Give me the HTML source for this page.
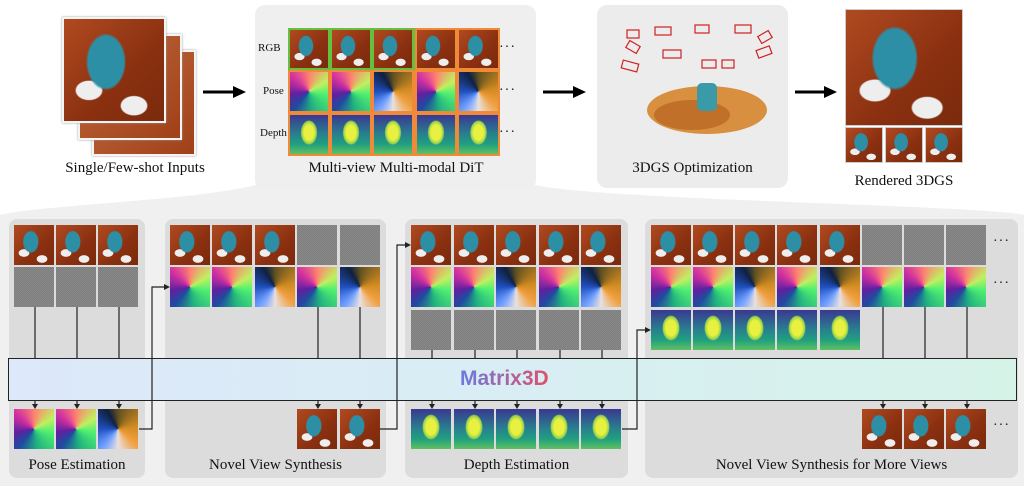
<!DOCTYPE html>
<html><head><meta charset="utf-8"><style>
*{margin:0;padding:0;box-sizing:border-box}
body{width:1024px;height:486px;background:#fff;position:relative;overflow:hidden;font-family:"Liberation Serif",serif;color:#111}
.a{position:absolute}
.t{position:absolute;width:40px;height:40px}
.rgb{background:radial-gradient(ellipse 20% 28% at 42% 42%,#2d8fa6 0 90%,transparent 100%),radial-gradient(ellipse 14% 10% at 25% 70%,#eee 0 90%,transparent 100%),radial-gradient(ellipse 14% 10% at 70% 85%,#eee 0 90%,transparent 100%),linear-gradient(135deg,#b04a20,#8a3010 60%,#7a2a0c)}
.noise{background:repeating-conic-gradient(#8a8a8a 0 25%,#7d7d7d 0 50%) 0 0/2px 2px,#858585}
.pa{background:conic-gradient(from 0deg,#ff8070,#c0f060 60deg,#50f070 100deg,#20b080 170deg,#204aa0 220deg,#6020a0 260deg,#d030a0 310deg,#ff8070)}
.pb{background:conic-gradient(from 0deg,#605020,#d08a20 80deg,#f0a040 130deg,#e8e0e0 180deg,#70a0ff 220deg,#2050c0 270deg,#102040 330deg,#605020)}
.dep{background:radial-gradient(ellipse 22% 32% at 50% 45%,#e8f040 0 60%,#90d050 90%,transparent 100%),linear-gradient(#3a3890,#2a7a90 45%,#20a080 75%,#60c060)}
.lab{position:absolute;text-align:center;font-size:15px;white-space:nowrap}
.dots{position:absolute;font-size:14px;letter-spacing:1px}
.sp{position:absolute;background:#dcdcdc;border-radius:8px}
</style></head><body>
<svg class="a" style="left:0;top:0" width="1024" height="486">
<path d="M255 185 C 200 200, 40 205, 0 215 L0 486 L1024 486 L1024 215 C 980 205, 600 200, 535 185 Z" fill="#f0f0f0"/>
</svg>
<div class="a" style="left:255px;top:5px;width:281px;height:185px;background:#efefef;border-radius:10px"></div>
<div class="a" style="left:597px;top:5px;width:191px;height:183px;background:#ececec;border-radius:10px"></div>
<div class="a" style="left:92px;top:50px;width:104px;height:106px;background:linear-gradient(135deg,#c06a40,#a04018);border:2px solid #f4f4f4;box-shadow:0 0 2px #999"></div>
<div class="a" style="left:78px;top:34px;width:104px;height:106px;background:linear-gradient(135deg,#c06a40,#a04018);border:2px solid #f4f4f4;box-shadow:0 0 2px #999"></div>
<div class="a rgb" style="left:62px;top:17px;width:104px;height:106px;border:2px solid #f4f4f4;box-shadow:0 0 2px #999"></div>
<div class="lab" style="left:40px;top:160px;width:190px">Single/Few-shot Inputs</div>
<svg class="a" style="left:0;top:0" width="1024" height="200">
<g stroke="#000" stroke-width="3"><line x1="203" y1="92" x2="235" y2="92"/><line x1="543" y1="92" x2="575" y2="92"/><line x1="795" y1="92" x2="826" y2="92"/></g>
<g fill="#000"><polygon points="233,86 246,92 233,98"/><polygon points="573,86 586,92 573,98"/><polygon points="824,86 837,92 824,98"/></g>
</svg>
<div class="lab" style="left:258px;top:42px;font-size:11px">RGB</div>
<div class="lab" style="left:263px;top:85px;font-size:11px">Pose</div>
<div class="lab" style="left:260px;top:127px;font-size:11px">Depth</div>
<div class="a" style="left:288px;top:28px;width:212px;height:128px;background:#f08a38"></div>
<div class="a" style="left:288px;top:28px;width:127px;height:42px;background:#66c040"></div>
<div class="t rgb" style="left:290px;top:30px;width:38px;height:38px"></div>
<div class="t rgb" style="left:332px;top:30px;width:38px;height:38px"></div>
<div class="t rgb" style="left:374px;top:30px;width:38px;height:38px"></div>
<div class="t rgb" style="left:417px;top:30px;width:38px;height:38px"></div>
<div class="t rgb" style="left:459px;top:30px;width:39px;height:38px"></div>
<div class="t pa" style="left:290px;top:72px;width:38px;height:39px"></div>
<div class="t pa" style="left:332px;top:72px;width:38px;height:39px"></div>
<div class="t pb" style="left:374px;top:72px;width:38px;height:39px"></div>
<div class="t pa" style="left:417px;top:72px;width:38px;height:39px"></div>
<div class="t pb" style="left:459px;top:72px;width:39px;height:39px"></div>
<div class="t dep" style="left:290px;top:115px;width:38px;height:39px"></div>
<div class="t dep" style="left:332px;top:115px;width:38px;height:39px"></div>
<div class="t dep" style="left:374px;top:115px;width:38px;height:39px"></div>
<div class="t dep" style="left:417px;top:115px;width:38px;height:39px"></div>
<div class="t dep" style="left:459px;top:115px;width:39px;height:39px"></div>
<div class="dots" style="left:499px;top:40px">···</div>
<div class="dots" style="left:499px;top:83px">···</div>
<div class="dots" style="left:499px;top:125px">···</div>
<div class="lab" style="left:290px;top:160px;width:212px">Multi-view Multi-modal DiT</div>
<svg class="a" style="left:597px;top:5px" width="191" height="150">
<g fill="none" stroke="#d02020" stroke-width="1.2">
<rect x="30" y="25" width="12" height="8"/><rect x="30" y="38" width="12" height="8" transform="rotate(30 36 42)"/><rect x="58" y="22" width="16" height="8"/><rect x="98" y="20" width="14" height="8"/><rect x="138" y="20" width="16" height="8"/><rect x="162" y="28" width="12" height="8" transform="rotate(-30 168 32)"/><rect x="160" y="43" width="14" height="8" transform="rotate(-20 167 47)"/><rect x="66" y="45" width="18" height="8"/><rect x="105" y="55" width="14" height="8"/><rect x="125" y="55" width="12" height="8"/><rect x="25" y="57" width="16" height="8" transform="rotate(15 33 61)"/>
</g>
<ellipse cx="110" cy="105" rx="60" ry="24" fill="#d89040"/>
<ellipse cx="95" cy="110" rx="38" ry="15" fill="#c07028"/>
<rect x="100" y="78" width="20" height="28" rx="5" fill="#3a9aa8"/>
</svg>
<div class="lab" style="left:597px;top:160px;width:191px">3DGS Optimization</div>
<div class="a rgb" style="left:845px;top:9px;width:118px;height:117px;border:1px solid #ccc"></div>
<div class="a rgb" style="left:845px;top:127px;width:38px;height:36px;border:1px solid #ccc"></div>
<div class="a rgb" style="left:885px;top:127px;width:38px;height:36px;border:1px solid #ccc"></div>
<div class="a rgb" style="left:925px;top:127px;width:38px;height:36px;border:1px solid #ccc"></div>
<div class="lab" style="left:845px;top:173px;width:118px">Rendered 3DGS</div>
<div class="sp" style="left:9px;top:219px;width:136px;height:259px"></div>
<div class="sp" style="left:165px;top:219px;width:221px;height:259px"></div>
<div class="sp" style="left:405px;top:219px;width:223px;height:259px"></div>
<div class="sp" style="left:645px;top:219px;width:373px;height:259px"></div>
<div class="t rgb" style="left:14px;top:225px"></div><div class="t rgb" style="left:56px;top:225px"></div><div class="t rgb" style="left:98px;top:225px"></div>
<div class="t noise" style="left:14px;top:267px"></div><div class="t noise" style="left:56px;top:267px"></div><div class="t noise" style="left:98px;top:267px"></div>
<div class="t pa" style="left:14px;top:409px"></div><div class="t pa" style="left:56px;top:409px"></div><div class="t pb" style="left:98px;top:409px"></div>
<div class="lab" style="left:9px;top:457px;width:136px">Pose Estimation</div>
<div class="t rgb" style="left:170px;top:225px"></div><div class="t rgb" style="left:212px;top:225px"></div><div class="t rgb" style="left:255px;top:225px"></div><div class="t noise" style="left:297px;top:225px"></div><div class="t noise" style="left:340px;top:225px"></div>
<div class="t pa" style="left:170px;top:267px"></div><div class="t pa" style="left:212px;top:267px"></div><div class="t pb" style="left:255px;top:267px"></div><div class="t pa" style="left:297px;top:267px"></div><div class="t pb" style="left:340px;top:267px"></div>
<div class="t rgb" style="left:297px;top:409px"></div><div class="t rgb" style="left:340px;top:409px"></div>
<div class="lab" style="left:165px;top:457px;width:221px">Novel View Synthesis</div>
<div class="t rgb" style="left:411px;top:225px"></div><div class="t rgb" style="left:454px;top:225px"></div><div class="t rgb" style="left:496px;top:225px"></div><div class="t rgb" style="left:539px;top:225px"></div><div class="t rgb" style="left:581px;top:225px"></div>
<div class="t pa" style="left:411px;top:267px"></div><div class="t pa" style="left:454px;top:267px"></div><div class="t pb" style="left:496px;top:267px"></div><div class="t pa" style="left:539px;top:267px"></div><div class="t pb" style="left:581px;top:267px"></div>
<div class="t noise" style="left:411px;top:310px"></div><div class="t noise" style="left:454px;top:310px"></div><div class="t noise" style="left:496px;top:310px"></div><div class="t noise" style="left:539px;top:310px"></div><div class="t noise" style="left:581px;top:310px"></div>
<div class="t dep" style="left:411px;top:409px"></div><div class="t dep" style="left:454px;top:409px"></div><div class="t dep" style="left:496px;top:409px"></div><div class="t dep" style="left:539px;top:409px"></div><div class="t dep" style="left:581px;top:409px"></div>
<div class="lab" style="left:405px;top:457px;width:223px">Depth Estimation</div>
<div class="t rgb" style="left:651px;top:225px"></div><div class="t rgb" style="left:693px;top:225px"></div><div class="t rgb" style="left:735px;top:225px"></div><div class="t rgb" style="left:777px;top:225px"></div><div class="t rgb" style="left:820px;top:225px"></div><div class="t noise" style="left:862px;top:225px"></div><div class="t noise" style="left:904px;top:225px"></div><div class="t noise" style="left:946px;top:225px"></div>
<div class="t pa" style="left:651px;top:267px"></div><div class="t pa" style="left:693px;top:267px"></div><div class="t pb" style="left:735px;top:267px"></div><div class="t pa" style="left:777px;top:267px"></div><div class="t pb" style="left:820px;top:267px"></div><div class="t pa" style="left:862px;top:267px"></div><div class="t pa" style="left:904px;top:267px"></div><div class="t pa" style="left:946px;top:267px"></div>
<div class="t dep" style="left:651px;top:310px"></div><div class="t dep" style="left:693px;top:310px"></div><div class="t dep" style="left:735px;top:310px"></div><div class="t dep" style="left:777px;top:310px"></div><div class="t dep" style="left:820px;top:310px"></div>
<div class="t rgb" style="left:862px;top:409px"></div><div class="t rgb" style="left:904px;top:409px"></div><div class="t rgb" style="left:946px;top:409px"></div>
<div class="dots" style="left:993px;top:234px">···</div><div class="dots" style="left:993px;top:276px">···</div><div class="dots" style="left:993px;top:418px">···</div>
<div class="lab" style="left:645px;top:457px;width:373px">Novel View Synthesis for More Views</div>
<div class="a" style="left:8px;top:358px;width:1009px;height:43px;border:1.5px solid #222;background:linear-gradient(90deg,#dde8fa,#d8eef4 50%,#d6f3e8)"></div>
<div class="a" style="left:460px;top:367px;font-family:'Liberation Sans',sans-serif;font-size:21px;font-weight:bold;background:linear-gradient(90deg,#6a7ae0,#e0506a);-webkit-background-clip:text;background-clip:text;color:transparent">Matrix3D</div>
<svg class="a" style="left:0;top:0" width="1024" height="486">
<g stroke="#222" stroke-width="1.2" fill="none">
<path d="M35 307V358M77 307V358M119 307V358M318 307V358M360 307V358M432 350V358M475 350V358M517 350V358M560 350V358M602 350V358M883 307V358M925 307V358M967 307V358"/>
<path d="M35 401V405M77 401V405M119 401V405M318 401V405M360 401V405M432 401V405M475 401V405M517 401V405M560 401V405M602 401V405M883 401V405M925 401V405M967 401V405"/>
<path d="M139 429H152V287H165M380 429H397V245H406M622 429H637V330H646"/>
</g>
<g fill="#222">
<polygon points="32,404 38,404 35,409"/><polygon points="74,404 80,404 77,409"/><polygon points="116,404 122,404 119,409"/><polygon points="315,404 321,404 318,409"/><polygon points="357,404 363,404 360,409"/><polygon points="429,404 435,404 432,409"/><polygon points="472,404 478,404 475,409"/><polygon points="514,404 520,404 517,409"/><polygon points="557,404 563,404 560,409"/><polygon points="599,404 605,404 602,409"/><polygon points="880,404 886,404 883,409"/><polygon points="922,404 928,404 925,409"/><polygon points="964,404 970,404 967,409"/>
<polygon points="164,284 170,287 164,290"/><polygon points="405,242 411,245 405,248"/><polygon points="645,327 651,330 645,333"/>
</g>
</svg>
</body></html>
